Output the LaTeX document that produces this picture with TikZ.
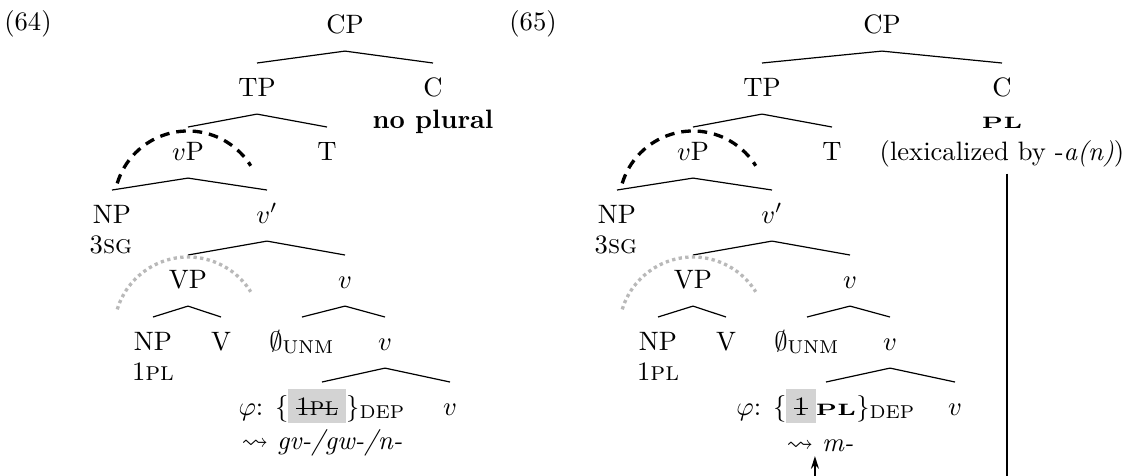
\documentclass[tikz,border=0pt]{standalone}
\usepackage{amsmath,amssymb}
\usepackage{graphicx}
\usetikzlibrary{arrows.meta}
\definecolor{boxgrey}{RGB}{211,211,211}
\definecolor{dotgrey}{RGB}{185,185,185}
\newsavebox\strkbox
\newcommand\strk[1]{\sbox\strkbox{#1}\rlap{\usebox\strkbox}\rule[0.55ex]{\wd\strkbox}{0.45pt}}
\newcommand\bsc[1]{\scalebox{1.4}[1]{\bfseries\fontsize{6.2}{7}\selectfont #1}}
\newcommand\treebranch[2]{\draw[branch] ([yshift=-6.8pt]#1.base) -- ([yshift=12.4pt]#2.base);}
\tikzset{
  tlab/.style={anchor=base, inner sep=0pt, font=\fontsize{10}{12}\selectfont},
  branch/.style={line width=0.45pt, black},
  dasharc/.style={line width=1.25pt, dash pattern=on 3.6pt off 2.6pt, black},
  dotarc/.style={line width=1.25pt, dash pattern=on 1.25pt off 1.25pt, dotgrey},
  conn/.style={line width=0.75pt, black}
}
\begin{document}
\begin{tikzpicture}[x=0.3759pt, y=-0.3759pt]
\clip (0,0) rectangle (1125,476);
\useasboundingbox (0,0) rectangle (1125,476);
% ---------- (64) ----------
\node[tlab] (ex64) at (28,30) {(64)};
\node[tlab] (CPL) at (345,33) {CP};
\node[tlab] (TPL) at (257,96) {TP};
\node[tlab] (CL) at (433,96) {C};
\node[tlab] (noplL) at (433,128) {\textbf{no plural}};
\node[tlab] (vPL) at (188,160) {$v$P};
\node[tlab] (TL) at (327,160) {T};
\node[tlab] (NPaL) at (112,223) {NP};
\node[tlab] (vbarL) at (267,223) {$v'$};
\node[tlab] (sgL) at (111,253) {3\textsc{sg}};
\node[tlab] (VPL) at (188,288) {VP};
\node[tlab] (vaL) at (345,288) {$v$};
\node[tlab] (NPbL) at (153,350) {NP};
\node[tlab] (VL) at (221,350) {V};
\node[tlab] (nullL) at (302,350) {$\emptyset_{\text{UNM}}$};
\node[tlab] (vbL) at (385,350) {$v$};
\node[tlab] (plL) at (153,380) {1\textsc{pl}};
\node[tlab] (phiL) at (322,415) {$\varphi$: $\{$\colorbox{boxgrey}{\strk{1\textsc{pl}}}$\}_{\text{DEP}}$};
\node[tlab] (vcL) at (450,415) {$v$};
\node[tlab] (lzL) at (322,449) {$\leadsto$ \textit{gv-/gw-/n-}};
\treebranch{CPL}{TPL}
\treebranch{CPL}{CL}
\treebranch{TPL}{vPL}
\treebranch{TPL}{TL}
\treebranch{vPL}{NPaL}
\treebranch{vPL}{vbarL}
\treebranch{vbarL}{VPL}
\treebranch{vbarL}{vaL}
\treebranch{VPL}{NPbL}
\treebranch{VPL}{VL}
\treebranch{vaL}{nullL}
\treebranch{vaL}{vbL}
\treebranch{vbL}{phiL}
\treebranch{vbL}{vcL}
\draw[dasharc] ([shift={(0,45)}]vPL.base) ++(197:74) arc[start angle=197, end angle=328, radius=74];
\draw[dotarc] ([shift={(0,43)}]VPL.base) ++(197:74) arc[start angle=197, end angle=328, radius=74];
% ---------- (65) ----------
\node[tlab] (ex65) at (533,30) {(65)};
\node[tlab] (CPR) at (882,33) {CP};
\node[tlab] (TPR) at (762,96) {TP};
\node[tlab] (CR) at (1002,96) {C};
\node[tlab] (plC) at (1002,128) {\bsc{PL}};
\node[tlab] (lexR) at (1002,160) {(lexicalized by -\textit{a(n)})};
\node[tlab] (vPR) at (693,160) {$v$P};
\node[tlab] (TR) at (832,160) {T};
\node[tlab] (NPaR) at (617,223) {NP};
\node[tlab] (vbarR) at (772,223) {$v'$};
\node[tlab] (sgR) at (616,253) {3\textsc{sg}};
\node[tlab] (VPR) at (693,288) {VP};
\node[tlab] (vaR) at (850,288) {$v$};
\node[tlab] (NPbR) at (658,350) {NP};
\node[tlab] (VR) at (726,350) {V};
\node[tlab] (nullR) at (807,350) {$\emptyset_{\text{UNM}}$};
\node[tlab] (vbR) at (890,350) {$v$};
\node[tlab] (plR) at (658,380) {1\textsc{pl}};
\node[tlab] (phiR) at (826,415) {$\varphi$: $\{$\colorbox{boxgrey}{\strk{1}}\bsc{PL}$\}_{\text{DEP}}$};
\node[tlab] (vcR) at (955,415) {$v$};
\node[tlab] (lzR) at (820,451) {$\leadsto$ \textit{m-}};
\treebranch{CPR}{TPR}
\treebranch{CPR}{CR}
\treebranch{TPR}{vPR}
\treebranch{TPR}{TR}
\treebranch{vPR}{NPaR}
\treebranch{vPR}{vbarR}
\treebranch{vbarR}{VPR}
\treebranch{vbarR}{vaR}
\treebranch{VPR}{NPbR}
\treebranch{VPR}{VR}
\treebranch{vaR}{nullR}
\treebranch{vaR}{vbR}
\treebranch{vbR}{phiR}
\treebranch{vbR}{vcR}
\draw[dasharc] ([shift={(0,45)}]vPR.base) ++(197:74) arc[start angle=197, end angle=328, radius=74];
\draw[dotarc] ([shift={(0,43)}]VPR.base) ++(197:74) arc[start angle=197, end angle=328, radius=74];
% connector from C's label to the exponent
\coordinate (lineTop) at ([xshift=1.9pt,yshift=-2.4pt]lexR.south);
\coordinate (tipR) at ([xshift=-1.9pt,yshift=-1.9pt]lzR.base);
\coordinate (below) at (0,530);
\draw[conn, -{Stealth[length=4.8pt,width=3pt]}] (lineTop) -- (lineTop |- below) -| (tipR);
\end{tikzpicture}
\end{document}
